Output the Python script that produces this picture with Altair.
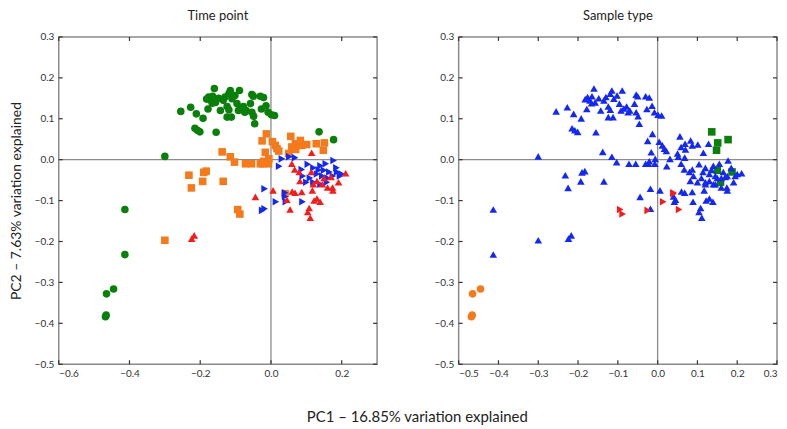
import altair as alt
import pandas as pd

# ---------------- data ----------------
# Time point groups (left panel colours); sample-type codes used in the right panel
t1_x = [-0.300, -0.255, -0.227, -0.211, -0.192, -0.215, -0.208, -0.201, -0.155, -0.160,
        -0.176, -0.170, -0.166, -0.178, -0.157, -0.143, -0.148, -0.130, -0.119, -0.115,
        -0.110, -0.124, -0.119, -0.124, -0.112, -0.102, -0.089, -0.096, -0.085, -0.078,
        -0.074, -0.054, -0.050, -0.058, -0.054, -0.049, -0.046, -0.030, -0.021, -0.027,
        -0.014, -0.008, 0.001, 0.010, -0.070, -0.092, -0.135, -0.182, -0.165, 0.136,
        0.177, -0.413, -0.413, -0.465, -0.445, -0.466, -0.468]
t1_y = [0.008, 0.118, 0.128, 0.112, 0.101, 0.077, 0.072, 0.068, 0.067, 0.174,
        0.153, 0.145, 0.138, 0.124, 0.140, 0.120, 0.150, 0.153, 0.161, 0.169,
        0.149, 0.130, 0.122, 0.104, 0.104, 0.157, 0.169, 0.137, 0.125, 0.130,
        0.116, 0.159, 0.155, 0.137, 0.116, 0.106, 0.088, 0.155, 0.152, 0.124,
        0.132, 0.116, 0.110, 0.108, 0.120, 0.120, 0.145, 0.148, 0.155, 0.068,
        0.049, -0.122, -0.232, -0.328, -0.316, -0.380, -0.384]
t1_type = ["A"] * 49 + ["B", "B", "A", "A", "D", "D", "D", "D"]

t2_x = [-0.013, -0.025, 0.004, 0.012, 0.017, -0.016, -0.006, -0.023, -0.007, -0.030,
        -0.021, 0.022, 0.056, 0.059, 0.050, 0.069, 0.083, 0.087, 0.101, 0.128,
        0.070, -0.138, -0.115, -0.103, -0.072, -0.055, -0.232, -0.225, -0.193, -0.190,
        -0.183, -0.135, -0.300, 0.151, 0.148, 0.040, -0.094, -0.088]
t2_y = [0.063, 0.046, 0.044, 0.035, 0.027, 0.018, 0.002, -0.010, -0.010, -0.010,
        -0.004, 0.021, 0.057, 0.031, 0.015, 0.039, 0.047, 0.035, 0.037, 0.039,
        0.025, 0.019, 0.007, -0.006, -0.010, -0.010, -0.038, -0.069, -0.053, -0.031,
        -0.028, -0.053, -0.197, 0.041, 0.023, -0.083, -0.122, -0.133]
t2_type = ["A"] * 33 + ["B", "B", "C", "C", "C"]

t3_x = [0.115, 0.067, 0.059, 0.080, 0.114, 0.211, 0.082, 0.174, 0.191, 0.006,
        -0.044, 0.045, 0.087, 0.068, 0.060, 0.117, 0.130, 0.139, 0.122, 0.108,
        0.104, 0.111, -0.224, -0.217, 0.175, 0.145, 0.160, 0.150, 0.130, 0.170,
        0.120, 0.054]
t3_y = [0.017, -0.024, -0.010, -0.030, -0.030, -0.033, -0.052, -0.068, -0.055, -0.075,
        -0.091, -0.098, -0.079, -0.081, -0.078, -0.075, -0.095, -0.103, -0.100, -0.118,
        -0.128, -0.142, -0.193, -0.185, -0.075, -0.060, -0.068, -0.045, -0.052, -0.042,
        -0.060, -0.122]
t3_type = ["A"] * 31 + ["C"]

t4_x = [0.031, 0.068, 0.052, 0.023, 0.087, 0.104, 0.177, 0.120, 0.140, 0.155,
        0.130, 0.165, 0.175, 0.195, 0.145, 0.110, 0.100, 0.120, 0.140, 0.160,
        0.185, 0.200, 0.135, 0.090, -0.018, 0.042, 0.089, -0.018, 0.040, 0.150,
        0.158, 0.187, 0.040, 0.014, -0.025]
t4_y = [0.002, 0.005, 0.007, -0.016, -0.024, -0.011, -0.002, -0.020, -0.015, -0.010,
        -0.035, -0.030, -0.040, -0.040, -0.040, -0.045, -0.055, -0.055, -0.060, -0.045,
        -0.020, -0.035, -0.025, -0.040, -0.071, -0.103, -0.103, -0.120, -0.090, -0.026,
        -0.055, -0.030, -0.081, -0.103, -0.124]
t4_type = ["A"] * 29 + ["B", "B", "B", "C", "C", "C"]

time_names = ["T1", "T2", "T3", "T4"]
time_colors = ["#0b7f0b", "#f47a1c", "#f41c1c", "#1428f2"]
time_shapes = ["circle", "square", "triangle-up", "triangle-right"]
time_order = ["T1", "T2", "T4", "T3"]          # drawing order

type_names = ["A", "B", "C", "D"]
type_colors = ["#1428f2", "#0b7f0b", "#f41c1c", "#f47a1c"]
type_shapes = ["triangle-up", "square", "triangle-right", "circle"]
type_order = ["B", "A", "C", "D"]              # drawing order

y_ticks = [-0.5, -0.4, -0.3, -0.2, -0.1, 0.0, 0.1, 0.2, 0.3]
left_x_ticks = [-0.6, -0.4, -0.2, 0.0, 0.2]
right_x_ticks = [-0.5, -0.4, -0.3, -0.2, -0.1, 0.0, 0.1, 0.2, 0.3]

# ---------------- build table ----------------
rows = []
for name, xs, ys, ts in zip(time_names, [t1_x, t2_x, t3_x, t4_x], [t1_y, t2_y, t3_y, t4_y],
                            [t1_type, t2_type, t3_type, t4_type]):
    for x, y, t in zip(xs, ys, ts):
        rows.append({"pc1": x, "pc2": y, "time": name, "stype": t})
df = pd.DataFrame(rows)

df_left = df.assign(rank=df["time"].map({k: i for i, k in enumerate(time_order)})).sort_values("rank", kind="stable")
df_right = df.assign(rank=df["stype"].map({k: i for i, k in enumerate(type_order)})).sort_values("rank", kind="stable")

FONT = "Lato"
W, H = 320, 329
TICK_LEN = 4


def panel(data, field, names, colors, shapes, xdom, xvals, title, ytitle):
    xs = alt.Scale(domain=xdom, nice=False, zero=False)
    ys = alt.Scale(domain=[-0.5, 0.3], nice=False, zero=False)
    xaxis = alt.Axis(values=xvals, format=".1f", ticks=False, domain=False, grid=False,
                     labelPadding=4, labelFontSize=10, labelColor="#333", labelFont=FONT,
                     title=None)
    yaxis_kw = dict(values=y_ticks, format=".1f", ticks=False, domain=False, grid=False,
                    labelPadding=5, labelFontSize=10, labelColor="#333", labelFont=FONT)
    if ytitle:
        yaxis = alt.Axis(title=ytitle, titleFontSize=14, titleFont=FONT, titleFontWeight="normal",
                         titleColor="#222", titlePadding=11, **yaxis_kw)
    else:
        yaxis = alt.Axis(title=None, **yaxis_kw)

    X = lambda f: alt.X(f, scale=xs, axis=xaxis)
    Y = lambda f: alt.Y(f, scale=ys, axis=yaxis)

    xt = pd.DataFrame({"v": xvals})
    yt = pd.DataFrame({"v": y_ticks})
    tick_color = "#333"

    zero_v = alt.Chart(pd.DataFrame({"v": [0.0]})).mark_rule(color="#8c8c8c", strokeWidth=1.3).encode(x=X("v:Q"))
    zero_h = alt.Chart(pd.DataFrame({"v": [0.0]})).mark_rule(color="#8c8c8c", strokeWidth=1.3).encode(y=Y("v:Q"))

    top = alt.Chart(xt).mark_rule(color=tick_color, strokeWidth=1.2).encode(
        x=X("v:Q"), y=alt.value(0), y2=alt.value(TICK_LEN))
    bottom = alt.Chart(xt).mark_rule(color=tick_color, strokeWidth=1.2).encode(
        x=X("v:Q"), y=alt.value(H - TICK_LEN), y2=alt.value(H))
    left = alt.Chart(yt).mark_rule(color=tick_color, strokeWidth=1.2).encode(
        y=Y("v:Q"), x=alt.value(0), x2=alt.value(TICK_LEN))
    right = alt.Chart(yt).mark_rule(color=tick_color, strokeWidth=1.2).encode(
        y=Y("v:Q"), x=alt.value(W - TICK_LEN), x2=alt.value(W))

    pts = alt.Chart(data).mark_point(filled=True, opacity=1, size=58).encode(
        x=X("pc1:Q"), y=Y("pc2:Q"),
        color=alt.Color(f"{field}:N", scale=alt.Scale(domain=names, range=colors), legend=None),
        shape=alt.Shape(f"{field}:N", scale=alt.Scale(domain=names, range=shapes), legend=None),
    )

    return alt.layer(zero_v, zero_h, top, bottom, left, right, pts).properties(
        width=W, height=H,
        title=alt.TitleParams(title, fontSize=13, font=FONT, fontWeight="normal", color="#222", offset=9),
    )


left_panel = panel(df_left, "time", time_names, time_colors, time_shapes,
                   [-0.6, 0.3], left_x_ticks, "Time point", "PC2 – 7.63% variation explained")
right_panel = panel(df_right, "stype", type_names, type_colors, type_shapes,
                    [-0.5, 0.3], right_x_ticks, "Sample type", None)

chart = alt.hconcat(left_panel, right_panel, spacing=54).resolve_scale(
    color="independent", shape="independent"
).properties(
    title=alt.TitleParams("PC1 – 16.85% variation explained", orient="bottom", anchor="middle",
                          dx=24, offset=31, fontSize=15, font=FONT, fontWeight="normal", color="#222"),
    padding={"left": 0, "top": 0, "right": 0, "bottom": 0},
).configure_view(stroke="#8a8a8a", strokeWidth=1.5)

chart.save("out.html", embed_options={"renderer": "svg", "actions": False})
